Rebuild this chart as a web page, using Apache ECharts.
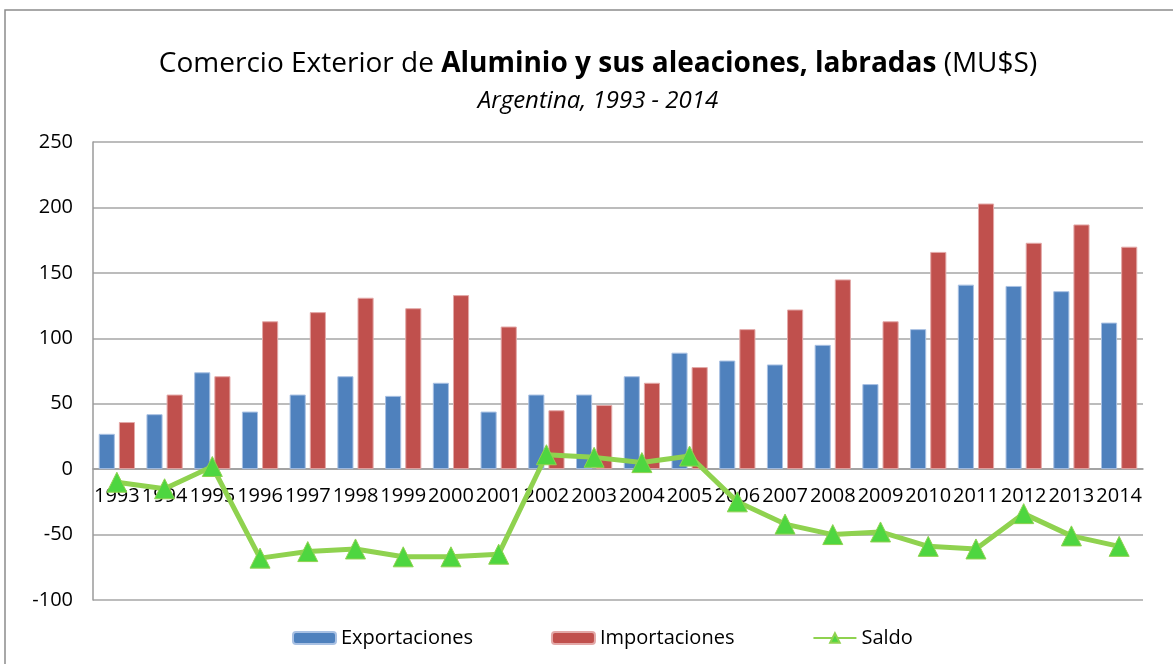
<!DOCTYPE html>
<html>
<head>
<meta charset="utf-8">
<script src="https://cdn.jsdelivr.net/npm/echarts@6/dist/echarts.min.js"></script>
<style>html,body{margin:0;padding:0;background:#fff}#c{width:1173px;height:664px}</style>
</head>
<body>
<div id="c"></div>
<script>
const years = ['1993','1994','1995','1996','1997','1998','1999','2000','2001','2002','2003','2004','2005','2006','2007','2008','2009','2010','2011','2012','2013','2014'];
const exportaciones = [27,42,74,44,57,71,56,66,44,57,57,71,89,83,80,95,65,107,141,140,136,112];
const importaciones = [36,57,71,113,120,131,123,133,109,45,49,66,78,107,122,145,113,166,203,173,187,170];
const saldo = [-10,-15,2,-68,-63,-61,-67,-67,-65,11,9,5,10,-25,-42,-50,-48,-59,-61,-34,-51,-59];
const yTicks = {min:-100, max:250, interval:50};

const FONT = 'Open Sans';
const chart = echarts.init(document.getElementById('c'));
chart.setOption({
  animation:false,
  backgroundColor:'#fff',
  textStyle:{fontFamily:FONT},
  graphic:[{type:'rect',shape:{x:5,y:10,width:1200,height:700},style:{fill:'none',stroke:'#8c8c8c',lineWidth:1.5},z:-10}],
  title:[{
    text:'{n|Comercio Exterior de }{b|Aluminio y sus aleaciones, labradas}{n| (MU$S)}',
    left:593, top:45, textAlign:'center',
    textStyle:{fontWeight:'normal',fontSize:28,rich:{
      n:{fontFamily:FONT,fontSize:28,fontWeight:'normal',color:'#000'},
      b:{fontFamily:FONT,fontSize:28,fontWeight:'bold',color:'#000'}
    }}
  },{
    text:'Argentina, 1993 - 2014',
    left:593, top:84, textAlign:'center',
    textStyle:{fontFamily:FONT,fontSize:24,fontStyle:'italic',fontWeight:'normal',color:'#000'}
  }],
  legend:{
    left:287, top:623, itemWidth:43, itemHeight:12, itemGap:78,
    textStyle:{fontFamily:FONT,fontSize:20,color:'#000'},
    data:['Exportaciones','Importaciones','Saldo']
  },
  grid:{left:93,right:30,top:142,bottom:64},
  xAxis:{
    type:'category', data:years, position:'bottom', offset:0,
    axisLine:{onZero:false,lineStyle:{color:'#9a9a9a',width:1.5}},
    axisTick:{show:false},
    axisLabel:{interval:0,fontFamily:FONT,fontSize:20,color:'#000',margin:17}
  },
  yAxis:{
    type:'value', min:yTicks.min, max:yTicks.max, interval:yTicks.interval,
    axisLine:{show:true,lineStyle:{color:'#9a9a9a',width:1.5}},
    axisTick:{show:false},
    splitLine:{lineStyle:{color:'#a6a6a6',width:1.5}},
    axisLabel:{fontFamily:FONT,fontSize:20,color:'#000',margin:20}
  },
  series:[
    {name:'Exportaciones',type:'bar',data:exportaciones,barGap:'25%',barCategoryGap:'24%',
     itemStyle:{color:'#4f81bd',borderColor:'#a9c1e3',borderWidth:1}},
    {name:'Importaciones',type:'bar',data:importaciones,
     itemStyle:{color:'#c0504d',borderColor:'#e3a9a8',borderWidth:1}},
    {name:'Saldo',type:'line',data:saldo,symbol:'triangle',symbolSize:20,
     lineStyle:{color:'#8fd24f',width:5},
     itemStyle:{color:'#4ed640',borderColor:'#8fd24f',borderWidth:1}, z:5}
  ]
});
// move the category axis onto the zero line using the library's own scale
const yZero = chart.convertToPixel({yAxisIndex:0}, 0);
const yMin = chart.convertToPixel({yAxisIndex:0}, yTicks.min);
chart.setOption({xAxis:{offset: -(yMin - yZero)}});
</script>
</body>
</html>
